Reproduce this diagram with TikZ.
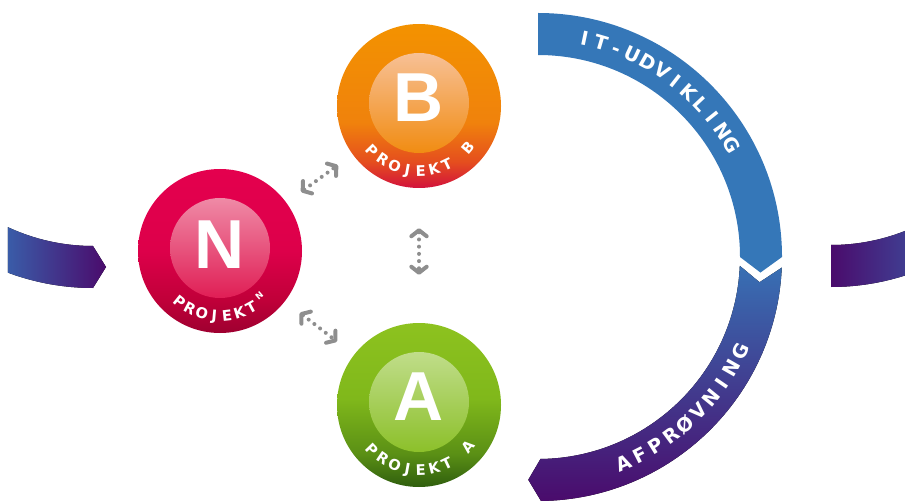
\documentclass[tikz,border=0pt]{standalone}
\usepackage{fontspec}
\setmainfont{Liberation Sans}
\newfontfamily\tagfont{DejaVu Sans}
\usetikzlibrary{calc,arrows.meta}

\definecolor{itblue}{HTML}{3577B8}
\definecolor{testblue}{HTML}{3870B4}
\definecolor{testpurple}{HTML}{4A0B6C}
\definecolor{stubblue}{HTML}{3A5CA8}
\definecolor{dotgray}{HTML}{8E8E8E}

\definecolor{bTop}{HTML}{F39200}
\definecolor{bMid}{HTML}{F0820C}
\definecolor{bLow}{HTML}{E54E1E}
\definecolor{bBot}{HTML}{D2123C}
\definecolor{bInTop}{HTML}{F7C095}
\definecolor{bInBot}{HTML}{F18C12}

\definecolor{nTop}{HTML}{E4004E}
\definecolor{nMid}{HTML}{DD004A}
\definecolor{nLow}{HTML}{C00039}
\definecolor{nBot}{HTML}{9E0030}
\definecolor{nInTop}{HTML}{EF8AA6}
\definecolor{nInBot}{HTML}{E01E55}

\definecolor{aTop}{HTML}{8DC21F}
\definecolor{aMid}{HTML}{80B81B}
\definecolor{aLow}{HTML}{5A8F15}
\definecolor{aBot}{HTML}{2F5E0E}
\definecolor{aInTop}{HTML}{C0DD8A}
\definecolor{aInBot}{HTML}{8CC02A}

\pgfdeclareverticalshading{projBshade}{100bp}{color(0bp)=(bBot); color(25bp)=(bBot); color(33bp)=(bLow); color(45bp)=(bMid); color(75bp)=(bTop); color(100bp)=(bTop)}
\pgfdeclareverticalshading{projNshade}{100bp}{color(0bp)=(nBot); color(25bp)=(nBot); color(35bp)=(nLow); color(50bp)=(nMid); color(75bp)=(nTop); color(100bp)=(nTop)}
\pgfdeclareverticalshading{projAshade}{100bp}{color(0bp)=(aBot); color(25bp)=(aBot); color(35bp)=(aLow); color(52bp)=(aMid); color(75bp)=(aTop); color(100bp)=(aTop)}

\begin{document}
\begin{tikzpicture}[x=0.75pt,y=0.75pt,yscale=-1,xscale=1,
  projcircle/.style={circle,minimum size=123pt,inner sep=0pt},
  innercircle/.style={circle,minimum size=75pt,inner sep=0pt},
  bigletter/.style={text=white,inner sep=0pt,font=\fontsize{52}{52}\selectfont\bfseries},
  ringtag/.style={text=white,inner sep=0pt,anchor=base,font=\tagfont\fontsize{11}{11}\selectfont\bfseries},
  arctag/.style={text=white,inner sep=0pt,anchor=base,font=\tagfont\fontsize{14.5}{14.5}\selectfont\bfseries},
  dotarrow/.style={draw=dotgray,line width=3pt,line cap=round,dash pattern=on 0pt off 5.4pt,
    >={Straight Barb[round,length=4.5pt,width=11.5pt]},<->}]
\useasboundingbox (0,0) rectangle (905,502);
\clip (0,0) rectangle (905,502);

\coordinate (prevC) at (93,44);
\coordinate (cycC) at (538,257);
\coordinate (nextC) at (831,43);

\fill[left color=stubblue,right color=testpurple] ($(prevC)+(114.9:202)$) -- ($(prevC)+(110.4:244)$)
  arc[start angle=110.4,end angle=90,radius=244] -- ($(prevC)+(90:223)+(13,0)$) -- ($(prevC)+(90:202)$)
  arc[start angle=90,end angle=114.9,radius=202] -- cycle;
\fill[left color=testpurple,right color=stubblue] ($(nextC)+(90:244)$) arc[start angle=90,end angle=60,radius=244]
  -- ($(nextC)+(60:202)$) arc[start angle=60,end angle=90,radius=202] -- cycle;

\fill[itblue] ($(cycC)+(-90:244)$) arc[start angle=-90,end angle=0,radius=244]
  -- ($(cycC)+(4:223)$) -- ($(cycC)+(0:202)$) arc[start angle=0,end angle=-90,radius=202] -- cycle;
\fill[top color=testblue,bottom color=testpurple] ($(cycC)+(2.5:202)$) -- ($(cycC)+(6.5:223)$) -- ($(cycC)+(2.5:244)$)
  arc[start angle=2.5,end angle=89.3,radius=244] -- ($(cycC)+(92.5:223)$) -- ($(cycC)+(89.3:202)$)
  arc[start angle=89.3,end angle=2.5,radius=202] -- cycle;

\foreach \ch [count=\i from 0] in {I,T,-,U,D,V,I,K,L,I,N,G}
  \node[arctag,rotate=78-4.36*\i-90] (itTag\i) at ($(cycC)+(-78+4.36*\i:216.5)$) {\ch};
\foreach \ch [count=\i from 0] in {A,F,P,R,Ø,V,N,I,N,G}
  \node[arctag,rotate=-67.5+4.72*\i+90] (testTag\i) at ($(cycC)+(67.5-4.72*\i:230)$) {\ch};

\node[projcircle,shading=projBshade] (projB) at (419,106) {};
\node[projcircle,shading=projNshade] (projN) at (220,251) {};
\node[projcircle,shading=projAshade] (projA) at (419,405) {};

\node[innercircle,top color=bInTop,bottom color=bInBot] (innerB) at ($(projB)+(0,-3)$) {};
\node[innercircle,top color=nInTop,bottom color=nInBot] (innerN) at ($(projN)+(0,-3)$) {};
\node[innercircle,top color=aInTop,bottom color=aInBot] (innerA) at ($(projA)+(0,-3)$) {};

\node[bigletter] (letB) at ($(projB)+(0,-8)$) {B};
\node[bigletter] (letN) at ($(projN)+(0,-6)$) {N};
\node[bigletter] (letA) at ($(projA)+(0,-8)$) {A};

\foreach \ch [count=\i from 0] in {P,R,O,J,E,K,T}
  \node[ringtag,rotate=224+11.9*\i+90] (tagB\i) at ($(projB)+(-224-11.9*\i:70)$) {\ch};
\node[ringtag,rotate=319.5+90] (tagB7) at ($(projB)+(-319.5:70)$) {B};
\foreach \ch [count=\i from 0] in {P,R,O,J,E,K,T}
  \node[ringtag,rotate=224+11.9*\i+90] (tagA\i) at ($(projA)+(-224-11.9*\i:70)$) {\ch};
\node[ringtag,rotate=319.5+90] (tagA7) at ($(projA)+(-319.5:70)$) {A};
\foreach \ch [count=\i from 0] in {P,R,O,J,E,K,T}
  \node[ringtag,rotate=231+11.3*\i+90] (tagN\i) at ($(projN)+(-231-11.3*\i:70)$) {\ch};
\node[ringtag,rotate=311+90,font=\tagfont\fontsize{6.5}{6.5}\selectfont\bfseries] (tagN7) at ($(projN)+(-311:63)$) {N};

\draw[dotarrow,shorten <=13.5pt,shorten >=13.5pt] (projN) -- (projB);
\draw[dotarrow,shorten <=30pt,shorten >=36pt] (projB) -- (projA);
\draw[dotarrow,shorten <=14pt,shorten >=16pt] (projN) -- (projA);
\end{tikzpicture}
\end{document}
